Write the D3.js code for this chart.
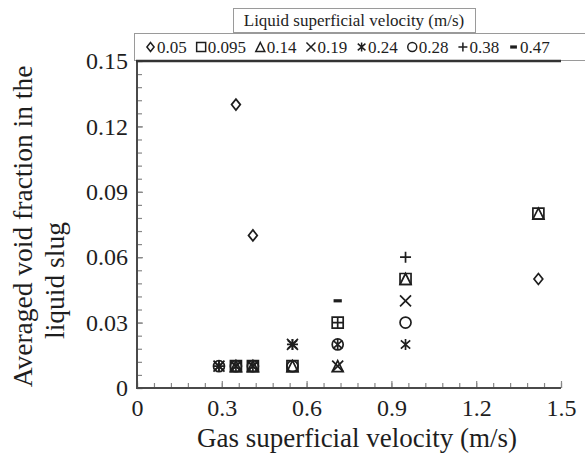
<!DOCTYPE html>
<html>
<head>
<meta charset="utf-8">
<script src="https://cdn.jsdelivr.net/npm/d3@7"></script>
<style>
  html, body { margin: 0; padding: 0; background: #fff; }
  svg { display: block; }
</style>
</head>
<body>
<svg id="chart" width="585" height="453"></svg>
<script>
// Liquid superficial velocity series (m/s) and their measurements
const seriesNames = ["0.05", "0.095", "0.14", "0.19", "0.24", "0.28", "0.38", "0.47"];
const seriesShapes = ["diamond", "square", "triangle", "cross", "asterisk", "circle", "plus", "dash"];

// gas superficial velocity (x) and averaged void fraction (y) for each series
const jg005  = [0.35, 0.41, 1.42];
const ev005  = [0.13, 0.07, 0.05];
const jg0095 = [0.35, 0.41, 0.55, 0.71, 0.95, 1.42];
const ev0095 = [0.01, 0.01, 0.01, 0.03, 0.05, 0.08];
const jg014  = [0.35, 0.41, 0.55, 0.71, 0.95, 1.42];
const ev014  = [0.01, 0.01, 0.01, 0.01, 0.05, 0.08];
const jg019  = [0.29, 0.35, 0.41, 0.55, 0.71, 0.95];
const ev019  = [0.01, 0.01, 0.01, 0.02, 0.01, 0.04];
const jg024  = [0.29, 0.35, 0.41, 0.55, 0.71, 0.95];
const ev024  = [0.01, 0.01, 0.01, 0.02, 0.02, 0.02];
const jg028  = [0.29, 0.35, 0.41, 0.55, 0.71, 0.95];
const ev028  = [0.01, 0.01, 0.01, 0.01, 0.02, 0.03];
const jg038  = [0.29, 0.55, 0.71, 0.95];
const ev038  = [0.01, 0.02, 0.03, 0.06];
const jg047  = [0.71];
const ev047  = [0.04];

const seriesX = [jg005, jg0095, jg014, jg019, jg024, jg028, jg038, jg047];
const seriesY = [ev005, ev0095, ev014, ev019, ev024, ev028, ev038, ev047];

const xTickValues = [0, 0.3, 0.6, 0.9, 1.2, 1.5];
const xTickLabels = ["0", "0.3", "0.6", "0.9", "1.2", "1.5"];
const yTickValues = [0, 0.03, 0.06, 0.09, 0.12, 0.15];
const yTickLabels = ["0", "0.03", "0.06", "0.09", "0.12", "0.15"];

const xTitle = "Gas superficial velocity (m/s)";
const yTitle = ["Averaged void fraction in the", "liquid slug"];
const legendTitle = "Liquid superficial velocity (m/s)";

const FONT = '"Liberation Serif", "Times New Roman", Times, serif';
const svg = d3.select("#chart").style("font-family", FONT);
const ink = "#1e1e1e";

const margin = { left: 137, right: 24, top: 61, bottom: 65 };
const W = 585, H = 453;
const x = d3.scaleLinear().domain([0, 1.5]).range([margin.left, W - margin.right]);
const y = d3.scaleLinear().domain([0, 0.15]).range([H - margin.bottom, margin.top]);

// marker shapes as d3 symbol types (size = half width in px)
const shapes = {
  diamond: { draw(c, r) { c.moveTo(0, -r); c.lineTo(r * 0.8, 0); c.lineTo(0, r); c.lineTo(-r * 0.8, 0); c.closePath(); } },
  square: { draw(c, r) { c.rect(-r, -r, 2 * r, 2 * r); } },
  triangle: { draw(c, r) { c.moveTo(0, -r); c.lineTo(r, r); c.lineTo(-r, r); c.closePath(); } },
  cross: { draw(c, r) { c.moveTo(-r, -r); c.lineTo(r, r); c.moveTo(r, -r); c.lineTo(-r, r); } },
  asterisk: { draw(c, r) { c.moveTo(0, -r); c.lineTo(0, r); c.moveTo(-r * 0.85, -r * 0.75); c.lineTo(r * 0.85, r * 0.75); c.moveTo(r * 0.85, -r * 0.75); c.lineTo(-r * 0.85, r * 0.75); } },
  circle: { draw(c, r) { c.moveTo(r, 0); c.arc(0, 0, r, 0, 2 * Math.PI); } },
  plus: { draw(c, r) { c.moveTo(-r, 0); c.lineTo(r, 0); c.moveTo(0, -r); c.lineTo(0, r); } },
  dash: { draw(c, r) { c.rect(-r * 0.75, -1.6, r * 1.5, 3.2); } }
};
const symbolPath = (shape, r) => d3.symbol().type(shapes[shape]).size(r)();

// axes: minor ticks every 0.06 / 0.006, majors slightly longer
const xMinor = d3.range(0, 1.5001, 0.06).map(v => +v.toFixed(2));
const yMinor = d3.range(0, 0.15001, 0.006).map(v => +v.toFixed(3));

function styleAxis(g) {
  g.attr("font-family", null).attr("font-size", null);
  g.select(".domain").remove();
  g.selectAll(".tick line").attr("stroke", "#888").attr("stroke-width", 1.2);
  g.selectAll("text").attr("font-size", 24).attr("fill", ink);
}

svg.append("g").attr("transform", `translate(0,${y(0)})`)
  .call(d3.axisBottom(x).tickValues(xMinor).tickSize(-5).tickFormat(""))
  .call(styleAxis);
svg.append("g").attr("transform", `translate(0,${y(0)})`)
  .call(d3.axisBottom(x).tickValues(xTickValues).tickSize(-7).tickPadding(11)
    .tickFormat((d, i) => xTickLabels[i]))
  .call(styleAxis);

svg.append("g").attr("transform", `translate(${x(0)},0)`)
  .call(d3.axisLeft(y).tickValues(yMinor).tickSize(-5).tickFormat(""))
  .call(styleAxis);
svg.append("g").attr("transform", `translate(${x(0)},0)`)
  .call(d3.axisLeft(y).tickValues(yTickValues).tickSize(-6).tickPadding(9)
    .tickFormat((d, i) => yTickLabels[i]))
  .call(styleAxis);

// frame: left and bottom axis lines
svg.append("path")
  .attr("d", `M${x(0)},${y(0.15)}V${y(0)}H${x(1.5)}`)
  .attr("fill", "none").attr("stroke", "#4a4a4a").attr("stroke-width", 2);

// data markers
seriesNames.forEach((name, i) => {
  const pts = seriesX[i].map((v, j) => [v, seriesY[i][j]]);
  const shape = seriesShapes[i];
  svg.append("g").selectAll("path").data(pts).join("path")
    .attr("transform", d => `translate(${x(d[0])},${y(d[1])})`)
    .attr("d", symbolPath(shape, 5.5))
    .attr("fill", shape === "dash" ? ink : "none")
    .attr("stroke", shape === "dash" ? "none" : ink)
    .attr("stroke-width", 1.7);
});

// legend title box
const titleBox = { x: 233, y: 8, w: 242, h: 24 };
svg.append("rect").attr("x", titleBox.x + 0.5).attr("y", titleBox.y + 0.5)
  .attr("width", titleBox.w).attr("height", titleBox.h)
  .attr("fill", "#fff").attr("stroke", "#9a9a9a").attr("stroke-width", 1);
svg.append("text").attr("x", titleBox.x + titleBox.w / 2).attr("y", titleBox.y + 18)
  .attr("text-anchor", "middle").attr("font-size", 17).attr("fill", ink)
  .text(legendTitle);

// legend row box
svg.append("rect").attr("x", 134.5).attr("y", 33.5).attr("width", 460).attr("height", 27)
  .attr("fill", "#fff").attr("stroke", "#9a9a9a").attr("stroke-width", 1);
// heavy top border of the plot
svg.append("line").attr("x1", x(0) - 1).attr("x2", x(1.5)).attr("y1", y(0.15)).attr("y2", y(0.15))
  .attr("stroke", "#333").attr("stroke-width", 2.5);

let lx = 150.5;
const legendY = 47;
seriesNames.forEach((name, i) => {
  const shape = seriesShapes[i];
  svg.append("path")
    .attr("transform", `translate(${lx},${legendY})`)
    .attr("d", symbolPath(shape, 4.5))
    .attr("fill", shape === "dash" ? ink : "none")
    .attr("stroke", shape === "dash" ? "none" : ink)
    .attr("stroke-width", 1.5);
  const t = svg.append("text").attr("x", lx + 6.5).attr("y", legendY + 6)
    .attr("font-size", 17).attr("fill", ink).text(name);
  lx += 6.5 + t.node().getComputedTextLength() + 14.4;
});

// axis titles
svg.append("text").attr("x", (x(0) + x(1.5)) / 2 + 8).attr("y", 447)
  .attr("text-anchor", "middle").attr("font-size", 27).attr("fill", ink).text(xTitle);

const yMid = (y(0) + y(0.15)) / 2;
svg.append("text").attr("transform", `translate(32,${yMid + 2}) rotate(-90)`)
  .attr("text-anchor", "middle").attr("font-size", 27.5).attr("fill", ink).text(yTitle[0]);
svg.append("text").attr("transform", `translate(64,${yMid + 56}) rotate(-90)`)
  .attr("text-anchor", "middle").attr("font-size", 27.5).attr("fill", ink).text(yTitle[1]);
</script>
</body>
</html>
